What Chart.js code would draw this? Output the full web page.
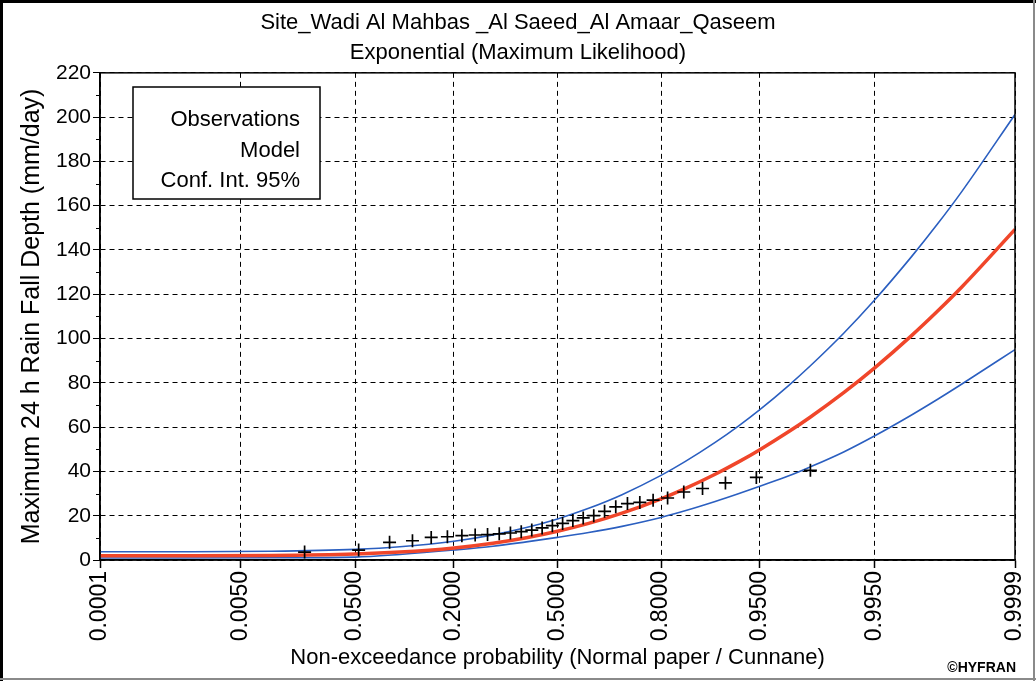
<!DOCTYPE html>
<html><head><meta charset="utf-8">
<script src="https://cdn.jsdelivr.net/npm/chart.js@4.4.1/dist/chart.umd.min.js"></script>
<style>html,body{margin:0;padding:0;background:#fff;}canvas{display:block;}</style>
</head><body><canvas id="c" width="1036" height="681"></canvas>
<script>
// ---------------- data ----------------
const titleLines = ['Site_Wadi Al Mahbas _Al Saeed_Al Amaar_Qaseem', 'Exponential (Maximum Likelihood)'];
const xAxisTitle = 'Non-exceedance probability (Normal paper / Cunnane)';
const yAxisTitle = 'Maximum 24 h Rain Fall Depth (mm/day)';
const legendLabels = ['Observations', 'Model', 'Conf. Int. 95%'];
const creditText = '\u00A9HYFRAN';

const xTickProbs = [0.0001, 0.005, 0.05, 0.2, 0.5, 0.8, 0.95, 0.995, 0.9999];
const xTickLabels = ['0.0001', '0.0050', '0.0500', '0.2000', '0.5000', '0.8000', '0.9500', '0.9950', '0.9999'];
const yMin = 0, yMax = 220, yStep = 20;

// observations (Cunnane plotting positions, n = 30)
const obsProb = [0.0199, 0.0530, 0.0861, 0.1192, 0.1523, 0.1854, 0.2185, 0.2517, 0.2848, 0.3179,
                 0.3510, 0.3841, 0.4172, 0.4503, 0.4834, 0.5166, 0.5497, 0.5828, 0.6159, 0.6490,
                 0.6821, 0.7152, 0.7483, 0.7815, 0.8146, 0.8477, 0.8808, 0.9139, 0.9470, 0.9801];
const obsValue = [3.6, 4.5, 8.0, 8.7, 10.2, 10.5, 11.0, 11.3, 11.5, 11.8,
                  12.2, 12.8, 13.5, 14.5, 15.5, 16.5, 17.8, 19.0, 20.0, 22.0,
                  24.0, 25.5, 26.0, 27.0, 28.0, 30.7, 32.3, 34.8, 37.3, 40.5];

// model and 95% confidence interval read at these probabilities
const curveProb = [0.0001, 0.001, 0.01, 0.05, 0.1, 0.2, 0.3, 0.4, 0.5, 0.6, 0.7, 0.8, 0.85, 0.9,
                   0.93, 0.95, 0.97, 0.98, 0.99, 0.995, 0.998, 0.999, 0.9995, 0.9999];
const modelValue = [1.9, 1.92, 2.06, 2.72, 3.59, 5.47, 7.61, 10.07, 13.0, 16.56, 21.16, 27.65, 32.25, 38.75,
                    44.44, 49.84, 58.01, 64.49, 75.58, 86.67, 101.34, 112.43, 123.52, 149.26];
const upperValue = [3.7, 3.72, 3.92, 4.8, 5.96, 8.48, 11.35, 14.65, 18.56, 23.35, 29.5, 38.2, 44.4, 53.1,
                    60.7, 67.9, 78.9, 87.6, 102.4, 117.3, 137.0, 151.8, 166.7, 201.2];
const lowerValue = [0.9, 0.9, 1.0, 1.3, 2.5, 4.5, 6.2, 8.2, 10.2, 12.4, 15.2, 19.2, 22.2, 26.4,
                    30.0, 33.3, 38.0, 42.0, 48.8, 56.0, 65.5, 72.6, 79.6, 95.0];

// ---------------- normal probability paper transform ----------------
function probit(p) {
  const a = [-3.969683028665376e+01, 2.209460984245205e+02, -2.759285104469687e+02, 1.383577518672690e+02, -3.066479806614716e+01, 2.506628277459239e+00];
  const b = [-5.447609879822406e+01, 1.615858368580409e+02, -1.556989798598866e+02, 6.680131188771972e+01, -1.328068155288572e+01];
  const c = [-7.784894002430293e-03, -3.223964580411365e-01, -2.400758277161838e+00, -2.549732539343734e+00, 4.374664141464968e+00, 2.938163982698783e+00];
  const d = [7.784695709041462e-03, 3.224671290700398e-01, 2.445134137142996e+00, 3.754408661907416e+00];
  const pl = 0.02425, ph = 1 - pl;
  let q, r;
  if (p < pl) {
    q = Math.sqrt(-2 * Math.log(p));
    return (((((c[0]*q+c[1])*q+c[2])*q+c[3])*q+c[4])*q+c[5]) / ((((d[0]*q+d[1])*q+d[2])*q+d[3])*q+1);
  }
  if (p <= ph) {
    q = p - 0.5; r = q * q;
    return (((((a[0]*r+a[1])*r+a[2])*r+a[3])*r+a[4])*r+a[5])*q / (((((b[0]*r+b[1])*r+b[2])*r+b[3])*r+b[4])*r+1);
  }
  q = Math.sqrt(-2 * Math.log(1 - p));
  return -(((((c[0]*q+c[1])*q+c[2])*q+c[3])*q+c[4])*q+c[5]) / ((((d[0]*q+d[1])*q+d[2])*q+d[3])*q+1);
}
const pts = (probs, vals) => probs.map((p, i) => ({ x: probit(p), y: vals[i] }));

const FONT = "'Liberation Sans', Arial, sans-serif";
Chart.defaults.font.family = FONT;
Chart.defaults.color = '#000';

const RED = '#f0462a', BLUE = '#2b5fc0';

const decorPlugin = {
  id: 'decor',
  beforeDraw(chart) {
    const ctx = chart.ctx;
    ctx.save();
    ctx.fillStyle = '#fff';
    ctx.fillRect(0, 0, chart.width, chart.height);
    ctx.restore();
  },
  afterDraw(chart) {
    const ctx = chart.ctx, a = chart.chartArea, ys = chart.scales.y;
    ctx.save();
    // plot frame
    ctx.strokeStyle = '#000'; ctx.lineWidth = 1.5; ctx.setLineDash([]);
    ctx.strokeRect(a.left, a.top, a.right - a.left, a.bottom - a.top);
    // minor y ticks
    ctx.lineWidth = 1;
    for (let v = yMin + yStep / 2; v < yMax; v += yStep) {
      const y = Math.round(ys.getPixelForValue(v)) + 0.5;
      ctx.beginPath(); ctx.moveTo(a.left - 4, y); ctx.lineTo(a.left, y); ctx.stroke();
    }
    // legend box
    const bx = 133, by = 87, bw = 187, bh = 112;
    ctx.fillStyle = '#fff'; ctx.fillRect(bx, by, bw, bh);
    ctx.strokeStyle = '#000'; ctx.lineWidth = 1.5; ctx.strokeRect(bx, by, bw, bh);
    ctx.fillStyle = '#000'; ctx.font = '22px ' + FONT;
    ctx.textAlign = 'right'; ctx.textBaseline = 'middle';
    legendLabels.forEach((t, i) => ctx.fillText(t, 300, 120 + i * 30.5));
    // credit
    ctx.font = 'bold 14px ' + FONT; ctx.textAlign = 'right';
    ctx.fillText(creditText, 1016, 668);
    // outer border
    ctx.fillStyle = '#000';
    ctx.fillRect(0, 0, chart.width, 3);
    ctx.fillRect(0, 0, 3, chart.height);
    ctx.fillStyle = '#8a8a8a';
    ctx.fillRect(0, chart.height - 3, chart.width, 2);
    ctx.fillRect(chart.width - 3, 0, 2, chart.height);
    ctx.restore();
  }
};

new Chart(document.getElementById('c'), {
  type: 'scatter',
  data: {
    datasets: [
      { label: legendLabels[0], data: pts(obsProb, obsValue), showLine: false, pointStyle: 'cross',
        pointRadius: 6.5, pointBorderWidth: 1.7, borderColor: '#000', backgroundColor: '#000', order: 0 },
      { label: legendLabels[1], data: pts(curveProb, modelValue), showLine: true, borderColor: RED,
        borderWidth: 3.5, pointRadius: 0, cubicInterpolationMode: 'monotone', order: 1 },
      { label: legendLabels[2], data: pts(curveProb, upperValue), showLine: true, borderColor: BLUE,
        borderWidth: 1.6, pointRadius: 0, cubicInterpolationMode: 'monotone', order: 2 },
      { label: legendLabels[2] + ' ', data: pts(curveProb, lowerValue), showLine: true, borderColor: BLUE,
        borderWidth: 1.6, pointRadius: 0, cubicInterpolationMode: 'monotone', order: 2 }
    ]
  },
  options: {
    responsive: false, animation: false, devicePixelRatio: 1,
    layout: { padding: { left: 0, right: 0, top: 0, bottom: 0 } },
    plugins: {
      legend: { display: false }, tooltip: { enabled: false },
      title: { display: true, text: titleLines, color: '#000',
        font: { family: FONT, size: 22, weight: 'normal', lineHeight: 1.36 }, padding: { top: 8, bottom: 5 } }
    },
    scales: {
      x: {
        type: 'linear', min: probit(xTickProbs[0]), max: probit(xTickProbs[xTickProbs.length - 1]),
        afterBuildTicks: s => { s.ticks = xTickProbs.map(p => ({ value: probit(p) })); },
        afterFit: s => { s.height = 121; s.paddingLeft = 0; s.paddingRight = 21; },
        ticks: { callback: (v, i) => xTickLabels[i], autoSkip: false, minRotation: 90, maxRotation: 90,
                 font: { size: 23 }, color: '#000', padding: 3 },
        grid: { color: '#000', lineWidth: 1, tickLength: 8, tickColor: '#000', tickWidth: 1.5 },
        border: { display: true, color: '#000', width: 1.5, dash: [5, 4] },
        title: { display: true, text: xAxisTitle, color: '#000', font: { size: 22 }, padding: { top: 0, bottom: 10 } }
      },
      y: {
        min: yMin, max: yMax,
        afterFit: s => { s.width = 100; },
        ticks: { stepSize: yStep, font: { size: 21 }, color: '#000', padding: 2 },
        grid: { color: '#000', lineWidth: 1, tickLength: 7, tickColor: '#000', tickWidth: 1 },
        border: { display: true, color: '#000', width: 1.5, dash: [5, 4] },
        title: { display: true, text: yAxisTitle, color: '#000', font: { size: 25 }, padding: { top: 17, bottom: 0 } }
      }
    }
  },
  plugins: [decorPlugin]
});
</script></body></html>
